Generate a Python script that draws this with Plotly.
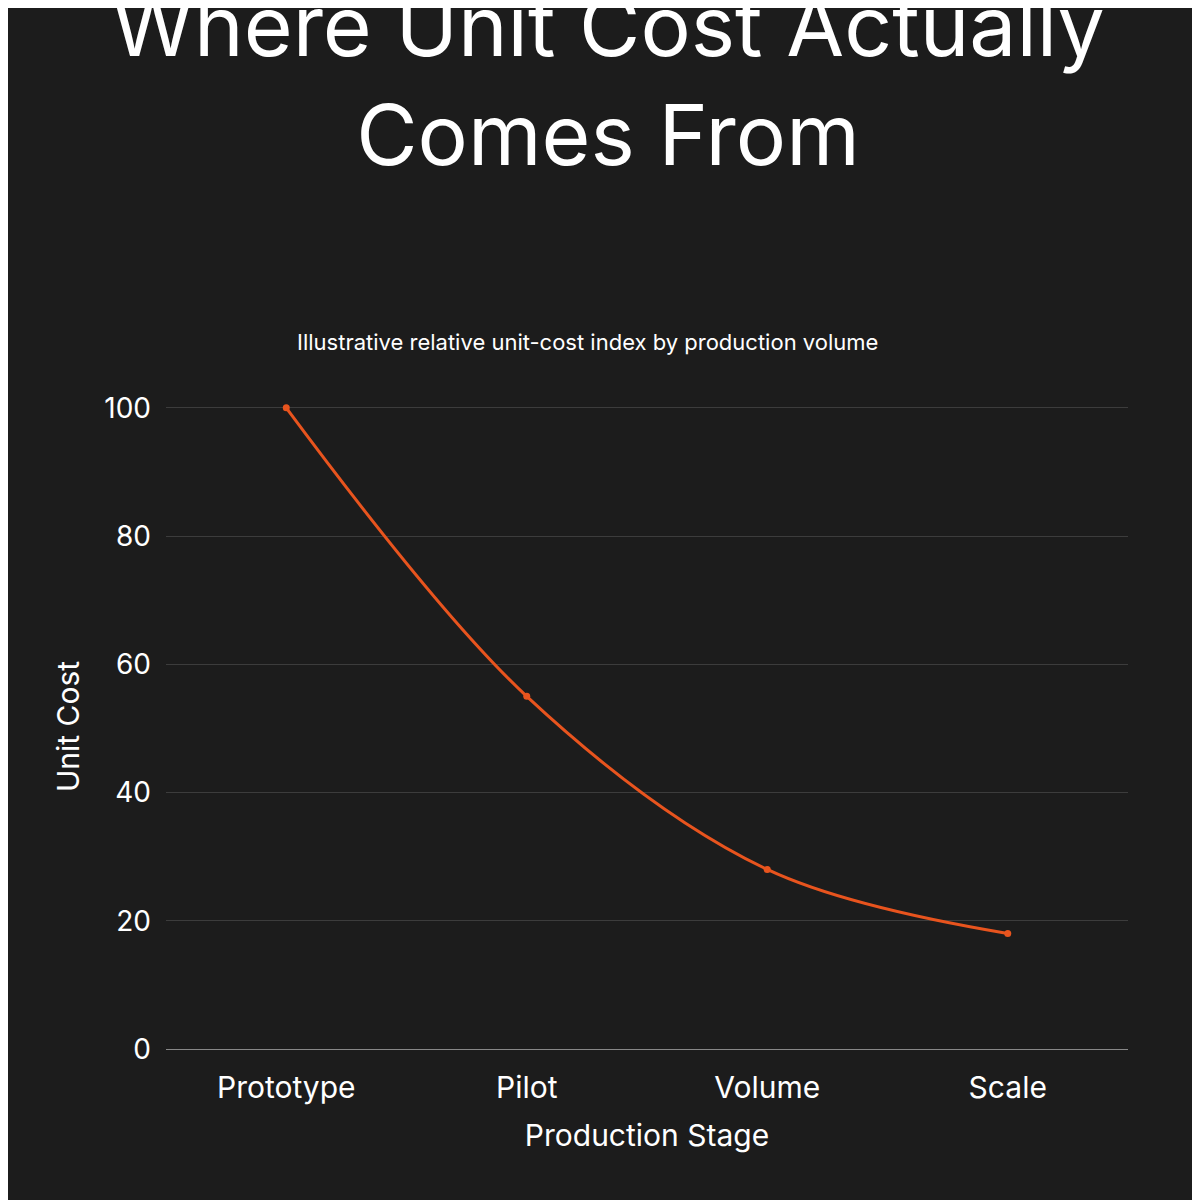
import plotly.graph_objects as go

stages = ["Prototype", "Pilot", "Volume", "Scale"]
unit_cost = [100, 55, 28, 18]
y_ticks = [0, 20, 40, 60, 80, 100]

fig = go.Figure(go.Scatter(
    x=stages, y=unit_cost, mode="lines+markers",
    line=dict(color="#E8541E", width=3, shape="spline"),
    marker=dict(color="#E8541E", size=7),
    cliponaxis=False,
))

fig.update_layout(
    width=1200, height=1200,
    paper_bgcolor="#1c1c1c", plot_bgcolor="#1c1c1c",
    font=dict(family="Inter", color="white", size=28),
    margin=dict(l=158, r=80, t=396, b=159),
    title=dict(text="Where Unit Cost Actually<br>Comes From", x=0.5, xanchor="center",
               y=0.96, yanchor="top", font=dict(size=84, color="white")),
    showlegend=False,
    annotations=[dict(text="Illustrative relative unit-cost index by production volume",
                      xref="paper", yref="paper", x=0.438, y=1.12, showarrow=False,
                      xanchor="center", font=dict(size=22, color="white"))],
)
fig.update_xaxes(title=dict(text="Production Stage", font=dict(size=30), standoff=20),
                 range=[-0.5, 3.5], showgrid=False, showline=True, linecolor="#888",
                 ticks="", ticklabelstandoff=12, tickfont=dict(size=30))
fig.update_yaxes(title=dict(text="Unit Cost", font=dict(size=30)),
                 range=[0, 100.6], tickvals=y_ticks, gridcolor="#3c3c3c",
                 zeroline=False, ticklabelstandoff=14, tickfont=dict(size=28))

fig.write_html("out.html")
